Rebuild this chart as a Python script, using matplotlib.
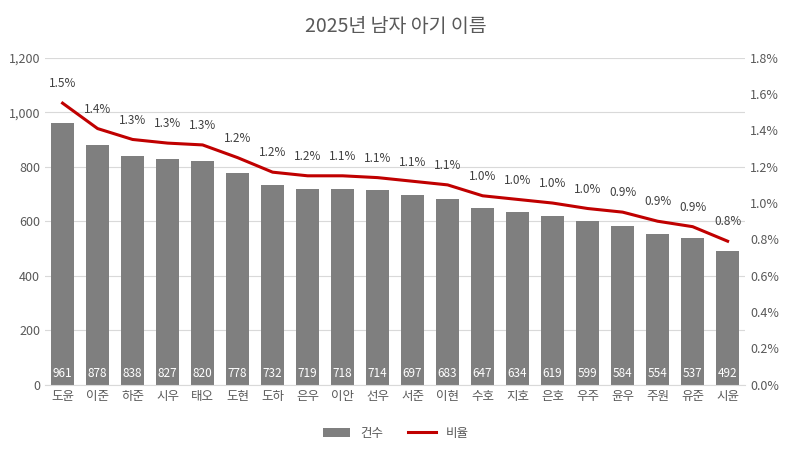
import matplotlib.pyplot as plt
from matplotlib.ticker import FuncFormatter

plt.rcParams['font.family'] = ['Noto Sans CJK KR', 'DejaVu Sans']

names = ['도윤', '이준', '하준', '시우', '태오', '도현', '도하', '은우', '이안', '선우',
         '서준', '이현', '수호', '지호', '은호', '우주', '윤우', '주원', '유준', '시윤']
counts = [961, 878, 838, 827, 820, 778, 732, 719, 718, 714,
          697, 683, 647, 634, 619, 599, 584, 554, 537, 492]
ratios = [1.55, 1.41, 1.35, 1.33, 1.32, 1.25, 1.17, 1.15, 1.15, 1.14,
          1.12, 1.10, 1.04, 1.02, 1.00, 0.97, 0.95, 0.90, 0.87, 0.79]
ratio_labels = ['1.5%', '1.4%', '1.3%', '1.3%', '1.3%', '1.2%', '1.2%', '1.2%', '1.1%', '1.1%',
                '1.1%', '1.1%', '1.0%', '1.0%', '1.0%', '1.0%', '0.9%', '0.9%', '0.9%', '0.8%']

fig, ax = plt.subplots(figsize=(7.91, 4.51), dpi=100)
fig.subplots_adjust(left=0.057, right=0.942, top=0.872, bottom=0.147)

x = range(len(names))
bars = ax.bar(x, counts, width=0.66, color='#7f7f7f', label='건수', zorder=2)
for i, c in enumerate(counts):
    ax.text(i, 18, str(c), ha='center', va='bottom', color='white', fontsize=8.5, zorder=3)

ax.set_ylim(0, 1200)
ax.set_yticks(range(0, 1201, 200))
ax.yaxis.set_major_formatter(FuncFormatter(lambda v, p: f'{int(v):,}'))
ax.set_xlim(-0.5, len(names) - 0.5)
ax.set_xticks(list(x))
ax.set_xticklabels(names)
ax.grid(axis='y', color='#d9d9d9', linewidth=0.8, zorder=0)
for s in ['top', 'right', 'left']:
    ax.spines[s].set_visible(False)
ax.spines['bottom'].set_color('#d9d9d9')
ax.tick_params(length=0, colors='#595959', labelsize=9)

ax2 = ax.twinx()
line, = ax2.plot(list(x), ratios, color='#c00000', linewidth=2.2, label='비율', zorder=4)
for i, (r, lab) in enumerate(zip(ratios, ratio_labels)):
    ax2.text(i, r + 0.07, lab, ha='center', va='bottom', color='#404040', fontsize=8.5)
ax2.set_ylim(0, 1.8)
ax2.set_yticks([i * 0.2 for i in range(10)])
ax2.yaxis.set_major_formatter(FuncFormatter(lambda v, p: f'{v:.1f}%'))
for s in ['top', 'right', 'left', 'bottom']:
    ax2.spines[s].set_visible(False)
ax2.tick_params(length=0, colors='#595959', labelsize=9)

fig.suptitle('2025년 남자 아기 이름', fontsize=14, color='#595959', y=0.965)
fig.legend(handles=[bars, line], labels=['건수', '비율'], loc='lower center',
           ncol=2, frameon=False, fontsize=9, bbox_to_anchor=(0.5, 0.0),
           labelcolor='#595959', handlelength=2.2)

fig.savefig('out.png', dpi=100)
